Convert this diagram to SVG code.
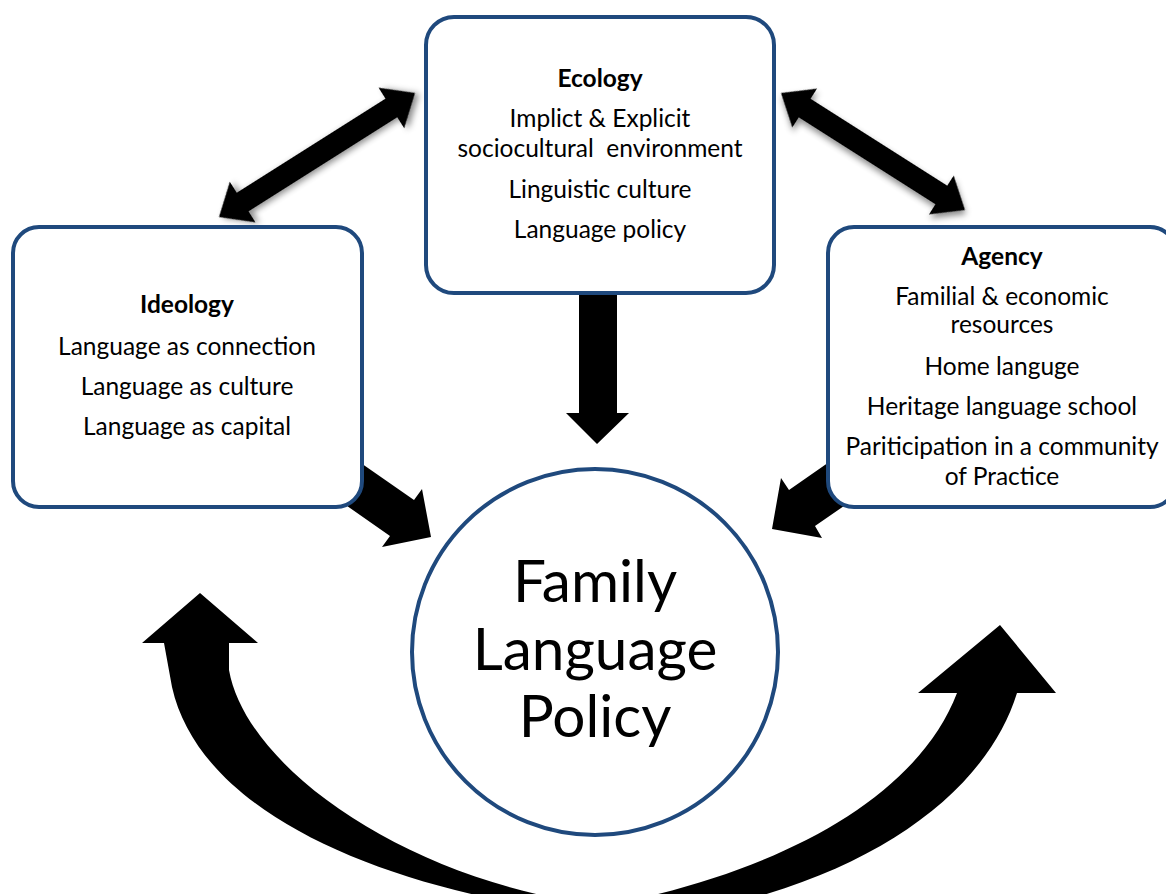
<svg xmlns="http://www.w3.org/2000/svg" width="1166" height="894" viewBox="0 0 1166 894">
<style>
.box{fill:#fff;stroke:#1F497D;stroke-width:4}
.arr{fill:#000}
text{font-family:Lato,"Open Sans","Liberation Sans",sans-serif;fill:#000;text-anchor:middle}
.t{font-size:24.5px}
.h{font-size:24.5px;font-weight:bold}
.big{font-size:58.5px}
</style>
<defs>
<filter id="sh" x="-20%" y="-40%" width="140%" height="180%">
<feDropShadow dx="3" dy="3" stdDeviation="3" flood-color="#000" flood-opacity="0.45"/>
</filter>
</defs>
<g id="connectors">
<polygon class="arr" filter="url(#sh)" transform="translate(317,155) rotate(-32.32)" points="-116,0 -88,-24 -88,-11 88,-11 88,-24 116,0 88,24 88,11 -88,11 -88,24"/>
<polygon class="arr" filter="url(#sh)" transform="translate(873,151.5) rotate(32.45)" points="-109,0 -81,-23 -81,-11 81,-11 81,-23 109,0 81,23 81,11 -81,11 -81,23"/>
<polygon class="arr" points="579,290 617,290 617,413 629,413 597,444 566,413 579,413"/>
<polygon class="arr" points="345,452 414,500 422,489 431,537 382,547 390,536 330,494"/>
<polygon class="arr" points="855,444 789,490 781,478 772,529 822,538 815,526 870,488"/>
<path class="arr" d="M200,593 L258,643 L229,643 L229,670 C245,760 380,860 545,896 L480,896 C320,860 195,790 172,687 L164,643 L142,643 Z"/>
<path class="arr" d="M1000,625 L1056,693 L1017,693 C990,780 900,855 760,896 L650,896 C800,860 920,790 957,693 L918,693 Z"/>
</g>
<g id="ecology">
<rect class="box" x="426" y="17" width="348" height="276" rx="28"/>
<text class="h" x="600" y="87">Ecology</text>
<text class="t" x="600" y="127">Implict &amp; Explicit</text>
<text class="t" x="600" y="157" xml:space="preserve">sociocultural  environment</text>
<text class="t" x="600" y="198">Linguistic culture</text>
<text class="t" x="600" y="238">Language policy</text>
</g>
<g id="ideology">
<rect class="box" x="13" y="227" width="349" height="280" rx="26"/>
<text class="h" x="187" y="313">Ideology</text>
<text class="t" x="187" y="355">Language as connection</text>
<text class="t" x="187" y="395">Language as culture</text>
<text class="t" x="187" y="435">Language as capital</text>
</g>
<g id="agency">
<rect class="box" x="828" y="227" width="348" height="280" rx="26"/>
<text class="h" x="1002" y="265">Agency</text>
<text class="t" x="1002" y="305">Familial &amp; economic</text>
<text class="t" x="1002" y="333">resources</text>
<text class="t" x="1002" y="375">Home languge</text>
<text class="t" x="1002" y="415">Heritage language school</text>
<text class="t" x="1002" y="455">Pariticipation in a community</text>
<text class="t" x="1002" y="485">of Practice</text>
</g>
<g id="flp">
<circle class="box" cx="595" cy="652" r="183"/>
<text class="big" x="595" y="602">Family</text>
<text class="big" x="595" y="670">Language</text>
<text class="big" x="595" y="737">Policy</text>
</g>
</svg>
